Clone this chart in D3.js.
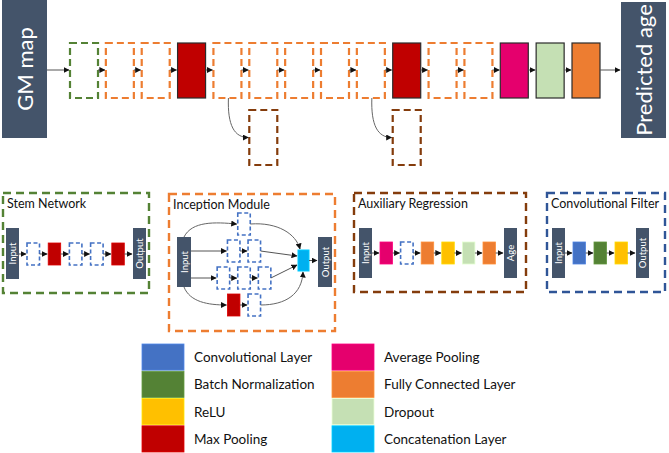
<!DOCTYPE html>
<html>
<head>
<meta charset="utf-8">
<script src="https://cdn.jsdelivr.net/npm/d3@7"></script>
<style>
  body { margin: 0; background: #fff; }
  svg { display: block; }
  text { font-family: Lato, "Open Sans", sans-serif; }
</style>
</head>
<body>
<svg id="chart" width="669" height="453"></svg>
<script>
// network description (layer types, left to right)
const mainPipeline = ["stem", "inception", "inception", "maxpool", "inception", "inception",
  "inception", "inception", "inception", "maxpool", "inception", "inception", "avgpool", "dropout", "fc"];
const auxBranchFrom = [4, 8];            // aux regression hangs off these pipeline blocks
const stemLayers = ["convblock", "maxpool", "convblock", "convblock", "maxpool"];
const inceptionBranches = [
  ["convblock"],
  ["convblock", "convblock"],
  ["convblock", "convblock", "convblock"],
  ["maxpool", "convblock"]
];
const auxLayers = ["avgpool", "convblock", "fc", "relu", "dropout", "fc"];
const filterLayers = ["conv", "bn", "relu"];

const moduleTitles = ["Stem Network", "Inception Module", "Auxiliary Regression", "Convolutional Filter"];
const legendKeys = ["conv", "bn", "relu", "maxpool", "avgpool", "fc", "dropout", "concat"];
const legendLabels = ["Convolutional Layer", "Batch Normalization", "ReLU", "Max Pooling",
  "Average Pooling", "Fully Connected Layer", "Dropout", "Concatenation Layer"];

// styles
const fills = {
  conv: "#4472C4", bn: "#548235", relu: "#FFC000", maxpool: "#C00000",
  avgpool: "#E5006D", fc: "#ED7D31", dropout: "#C5E0B4", concat: "#00B0F0"
};
const dashed = { stem: "#548235", inception: "#ED7D31", aux: "#843C0C", convblock: "#4472C4" };
const navy = "#44546A";

const svg = d3.select("#chart");

const defs = svg.append("defs");
defs.append("marker")
  .attr("id", "arr")
  .attr("markerUnits", "userSpaceOnUse")
  .attr("markerWidth", 6).attr("markerHeight", 6)
  .attr("refX", 5.5).attr("refY", 3)
  .attr("orient", "auto")
  .append("path").attr("d", "M0,0 L6,3 L0,6 Z").attr("fill", "#111");

function arrow(g, x1, y1, x2, y2) {
  g.append("line")
    .attr("x1", x1).attr("y1", y1).attr("x2", x2).attr("y2", y2)
    .attr("stroke", "#555").attr("stroke-width", 1)
    .attr("marker-end", "url(#arr)");
}
function curve(g, d) {
  g.append("path").attr("d", d)
    .attr("fill", "none").attr("stroke", "#666").attr("stroke-width", 1)
    .attr("marker-end", "url(#arr)");
}

// one layer block, dashed outline for composite modules, solid fill otherwise
function block(g, type, x, y, w, h, big) {
  const r = g.append("rect").attr("x", x).attr("y", y).attr("width", w).attr("height", h);
  if (dashed[type]) {
    r.attr("fill", "#fff").attr("stroke", dashed[type])
      .attr("stroke-width", big ? 2.2 : 1.6)
      .attr("stroke-dasharray", big ? "7,4" : "4,2.5");
  } else {
    r.attr("fill", fills[type])
      .attr("stroke", big ? "#2b2b2b" : d3.color(fills[type]).brighter(0.4))
      .attr("stroke-width", big ? 1.2 : 0.8);
  }
  return r;
}

// tall dark bar with rotated label (Input / Output / Age ...)
function bar(g, label, x, y, w, h, size) {
  g.append("rect").attr("x", x).attr("y", y).attr("width", w).attr("height", h).attr("fill", navy);
  g.append("text")
    .attr("transform", `translate(${x + w / 2},${y + h / 2}) rotate(-90)`)
    .attr("text-anchor", "middle").attr("dominant-baseline", "central")
    .attr("fill", "#fff").attr("font-size", size)
    .text(label);
}

// ---------- top pipeline ----------
const mainG = svg.append("g");
const px = d3.scaleLinear().domain([0, mainPipeline.length - 1]).range([70, 572]);
const bw = 28, by = 43, bh = 55, midY = by + bh / 2 - 0.5;

bar(mainG, "GM map", 2, 0, 45, 138, 22);
bar(mainG, "Predicted age", 621, 2, 45, 136, 22);

arrow(mainG, 47, midY, px(0) - 1, midY);
mainPipeline.forEach((t, i) => {
  block(mainG, t, px(i), by, bw, bh, true);
  if (i > 0) arrow(mainG, px(i - 1) + bw, midY, px(i) - 1, midY);
});
arrow(mainG, px(mainPipeline.length - 1) + bw, midY, 620, midY);

auxBranchFrom.forEach(i => {
  const ax = px(i + 1), ay = 110, ah = 55;
  block(mainG, "aux", ax, ay, bw, ah, true);
  const sx = px(i) + bw / 2 + 1, sy = by + bh, ey = ay + ah / 2;
  curve(mainG, `M${sx},${sy} C${sx - 1},${ey - 12} ${sx + 6},${ey} ${ax - 1},${ey}`);
});

// ---------- module frames ----------
function frame(title, color, x, y, w, h) {
  const g = svg.append("g");
  g.append("rect").attr("x", x).attr("y", y).attr("width", w).attr("height", h)
    .attr("fill", "none").attr("stroke", color).attr("stroke-width", 2.4)
    .attr("stroke-dasharray", "8,5");
  g.append("text").attr("x", x + 4).attr("y", y + 15)
    .attr("font-size", 12.5).attr("fill", "#111").text(title);
  return g;
}

const sw = 12.5, sh = 22;

// linear chain of small layers between two bars
function chain(g, layers, x0, step, inX, outX, cy, barY, barH, inLabel, outLabel) {
  const sx = d3.scaleLinear().domain([0, layers.length - 1]).range([x0, x0 + step * (layers.length - 1)]);
  bar(g, inLabel, inX, barY, 13, barH, 9.5);
  bar(g, outLabel, outX, barY, 13, barH, 9.5);
  arrow(g, inX + 13, cy, sx(0) - 1, cy);
  layers.forEach((t, i) => {
    block(g, t, sx(i), cy - sh / 2, sw, sh, false);
    if (i > 0) arrow(g, sx(i - 1) + sw, cy, sx(i) - 1, cy);
  });
  arrow(g, sx(layers.length - 1) + sw, cy, outX - 1, cy);
}

// Stem network
const stem = frame(moduleTitles[0], "#548235", 3, 193, 146, 100);
chain(stem, stemLayers, 27, 21.2, 6, 133, 254, 228, 51, "Input", "Output");

// Auxiliary regression
const aux = frame(moduleTitles[2], "#843C0C", 354, 193, 172, 99);
chain(aux, auxLayers, 380, 20.6, 359, 504, 253, 228, 50, "Input", "Age");

// Convolutional filter
const cf = frame(moduleTitles[3], "#2F5597", 547, 193, 118, 99);
chain(cf, filterLayers, 573, 21, 552, 636, 253, 228, 50, "Input", "Output");

// Inception module
const inc = frame(moduleTitles[1], "#ED7D31", 169, 194, 166, 137);
bar(inc, "Input", 177, 237, 14, 50, 9.5);
bar(inc, "Output", 318, 237, 14, 50, 9.5);
const concat = { x: 298, y: 250, w: 11, h: 21 };
inc.append("rect").attr("x", concat.x).attr("y", concat.y).attr("width", concat.w).attr("height", concat.h)
  .attr("fill", fills.concat).attr("stroke", d3.color(fills.concat).brighter(0.4));
arrow(inc, concat.x + concat.w, 260.5, 317, 260.5);

const rowY = d3.scaleLinear().domain([0, inceptionBranches.length - 1]).range([224, 305]);
const incStep = 20.6, incCenter = 244;
inceptionBranches.forEach((row, r) => {
  const cy = rowY(r);
  const xs = row.map((_, j) => incCenter + (j - (row.length - 1) / 2) * incStep - sw / 2);
  row.forEach((t, j) => {
    block(inc, t, xs[j], cy - sh / 2, sw, sh, false);
    if (j > 0) arrow(inc, xs[j - 1] + sw, cy, xs[j] - 1, cy);
  });
  const first = xs[0], last = xs[xs.length - 1] + sw;
  if (r === 0) {
    curve(inc, `M184,237 C192,221 215,222 ${first - 1},${cy}`);
    curve(inc, `M${last},${cy} C278,222 296,234 ${concat.x + 2},${concat.y - 1}`);
  } else if (r === inceptionBranches.length - 1) {
    curve(inc, `M184,287 C190,302 208,${cy} ${first - 1},${cy}`);
    curve(inc, `M${last},${cy} C286,${cy} 302,294 ${concat.x + 5},${concat.y + concat.h + 1}`);
  } else {
    arrow(inc, 191, cy, first - 1, cy);
    const ty = r === 1 ? 256 : 265;
    arrow(inc, last, cy, concat.x - 1, ty);
  }
});

// ---------- legend ----------
const leg = svg.append("g");
const ly = d3.scaleBand().domain(d3.range(4)).range([344, 452]).paddingInner(0.04);
legendKeys.forEach((k, i) => {
  const col = Math.floor(i / 4), row = i % 4;
  const lx = col === 0 ? 142 : 332;
  leg.append("rect").attr("x", lx).attr("y", ly(row)).attr("width", 42).attr("height", ly.bandwidth())
    .attr("fill", fills[k]).attr("stroke", d3.color(fills[k]).brighter(0.5)).attr("stroke-width", 0.8);
  leg.append("text").attr("x", lx + 52).attr("y", ly(row) + ly.bandwidth() / 2)
    .attr("dominant-baseline", "central").attr("font-size", 13.5).attr("fill", "#111")
    .text(legendLabels[i]);
});
</script>
</body>
</html>
